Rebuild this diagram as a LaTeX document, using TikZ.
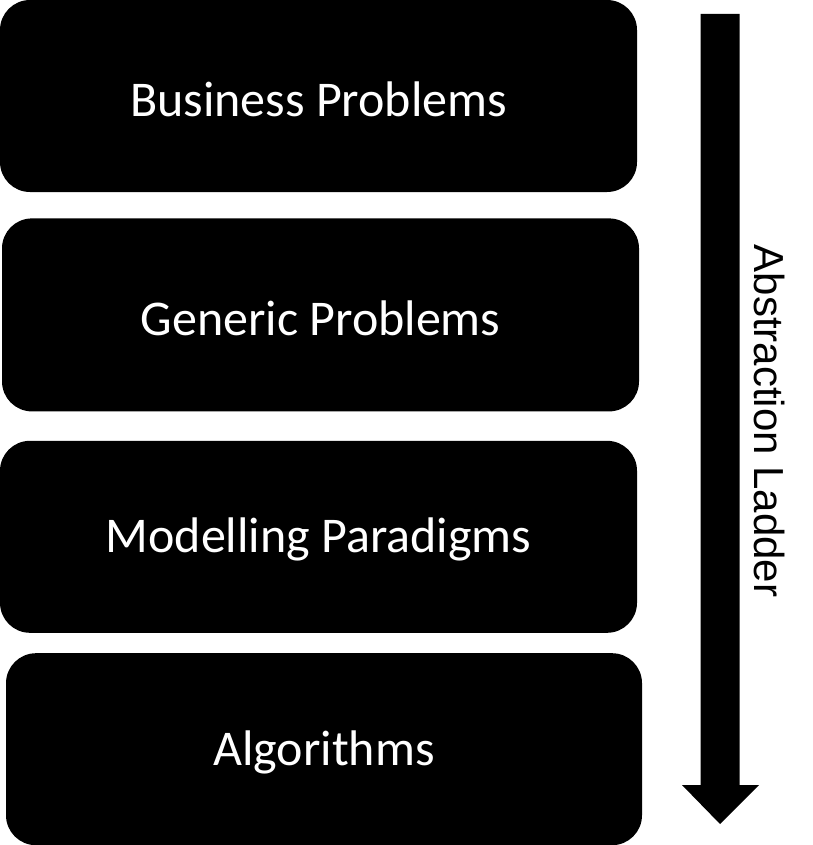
\documentclass[tikz,border=0pt]{standalone}
\usepackage{fontspec}
\usetikzlibrary{positioning}
\newfontfamily\boxfont{Carlito}
\newfontfamily\ladderfont{Liberation Sans}
\newcommand{\lowtext}[1]{\raisebox{-3pt}[\height][\depth]{#1}}

\begin{document}
\begin{tikzpicture}[
  x=1pt,y=-1pt,
  node distance=26pt,
  layer/.style={rectangle,rounded corners=30pt,fill=black,text=white,
    minimum width=637pt,minimum height=192pt,inner sep=0pt,
    font=\boxfont\fontsize{50}{60}\selectfont},
  ladderlabel/.style={rotate=-90,inner sep=0pt,
    font=\ladderfont\fontsize{42}{50}\selectfont}
]
\useasboundingbox (0,0) rectangle (812,845);
\node[layer] (bus) at (318.5,96) {\lowtext{Business Problems}};
\node[layer,below=26pt of bus,xshift=2pt,minimum height=193pt] (gen) {\lowtext{Generic Problems}};
\node[layer,below=29pt of gen,xshift=-2pt] (mod) {\lowtext{Modelling Paradigms}};
\node[layer,below=20pt of mod,xshift=5.5pt,minimum width=636pt] (alg) {\lowtext{Algorithms}};
% the ladder arrow
\coordinate (ladtop) at (720,14);
\coordinate (ladtip) at (720,824);
\fill ([xshift=-19.5pt]ladtop) -- ([xshift=19.5pt]ladtop)
  -- ([xshift=19.5pt,yshift=39pt]ladtip) -- ([xshift=39pt,yshift=39pt]ladtip)
  -- (ladtip) -- ([xshift=-38pt,yshift=39pt]ladtip)
  -- ([xshift=-19.5pt,yshift=39pt]ladtip) -- cycle;
\node[ladderlabel] (lab) at (769,421) {Abstraction Ladder};
\end{tikzpicture}
\end{document}
